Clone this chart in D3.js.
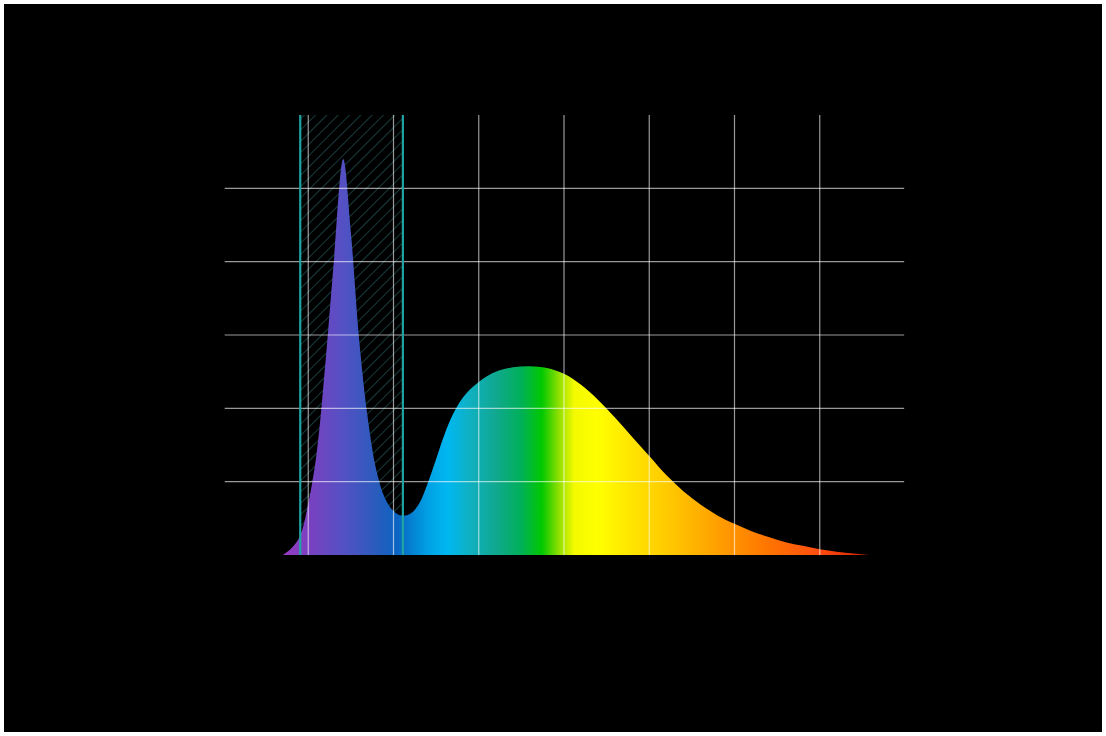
<!DOCTYPE html>
<html><head><meta charset="utf-8">
<script src="https://cdn.jsdelivr.net/npm/d3@7"></script>
<style>html,body{margin:0;padding:0;background:#fff;}svg{display:block;}</style>
</head><body>
<script>
// Data
const wavelengths = [385,390,395,400,405,410,415,420.5,425,430,435,440,445,450,455,460,465,470,475,480,485,490,495,500,505,510,520,530,540,550,560,570,580,590,600,610,620,630,640,650,660,670,680,690,700,710,720,729];
const intensity   = [0,0.018,0.05,0.14,0.28,0.52,0.80,1.08,0.88,0.58,0.37,0.23,0.155,0.12,0.107,0.113,0.14,0.195,0.262,0.33,0.385,0.425,0.452,0.472,0.488,0.50,0.512,0.515,0.51,0.494,0.464,0.423,0.374,0.322,0.27,0.218,0.174,0.138,0.108,0.085,0.065,0.049,0.035,0.025,0.016,0.009,0.004,0];
const xTicks = [400,450,500,550,600,650,700];
const yTicks = [0.2,0.4,0.6,0.8,1.0];
const band = [395.3,455.5];
const stopWavelengths = [385,400,420,440,452,470,482,495,510,525,537,547,556,570,590,612,640,670,700,729];
const stopColors = ["#9a3cc4","#7a40c0","#5550c4","#2a5cbc","#0a64c2","#00a0e4","#00b8f0","#10b0c0","#10a890","#00b058","#00c800","#90e000","#f4fa00","#ffff00","#ffe400","#ffc800","#ffa000","#ff7400","#ff4c10","#d02000"];

const W = 1106, H = 736;
const svg = d3.select("body").append("svg").attr("width", W).attr("height", H);
svg.append("rect").attr("x",4).attr("y",4).attr("width",1098).attr("height",728).attr("fill","#000");

const x = d3.scaleLinear().domain([350,750]).range([223,905]);
const y = d3.scaleLinear().domain([0,1.2]).range([555,115]);

const defs = svg.append("defs");
const pat = defs.append("pattern").attr("id","hatch").attr("patternUnits","userSpaceOnUse")
  .attr("width",8).attr("height",8).attr("patternTransform","rotate(45)");
pat.append("line").attr("x1",0).attr("y1",0).attr("x2",0).attr("y2",8)
  .attr("stroke","#1d4a4c").attr("stroke-width",1.6);

const grad = defs.append("linearGradient").attr("id","spec").attr("gradientUnits","userSpaceOnUse")
  .attr("x1",x(385)).attr("x2",x(729)).attr("y1",0).attr("y2",0);
stopWavelengths.forEach((w,i)=>{
  grad.append("stop").attr("offset",(w-385)/(729-385)).attr("stop-color",stopColors[i]);
});

// hatched band
svg.append("rect").attr("x",x(band[0])).attr("y",y(1.2)).attr("width",x(band[1])-x(band[0]))
  .attr("height",y(0)-y(1.2)).attr("fill","url(#hatch)");

// spectrum area
const data = wavelengths.map((w,i)=>({w, v: intensity[i]}));
const area = d3.area().x(d=>x(d.w)).y0(y(0)).y1(d=>Math.min(y(0), y(d.v))).curve(d3.curveCatmullRom.alpha(0.5));
svg.append("path").datum(data).attr("d",area).attr("fill","url(#spec)");

// grid
const g = svg.append("g").attr("stroke","#ffffff").attr("stroke-opacity",0.6).attr("stroke-width",1.2);
g.selectAll("line.v").data(xTicks).join("line").attr("class","v")
  .attr("x1",d=>x(d)).attr("x2",d=>x(d)).attr("y1",y(1.2)).attr("y2",y(0));
g.selectAll("line.h").data(yTicks).join("line").attr("class","h")
  .attr("x1",x(351)).attr("x2",x(749.5)).attr("y1",d=>y(d)).attr("y2",d=>y(d));

// band edges
svg.selectAll("line.band").data(band).join("line").attr("class","band")
  .attr("x1",d=>x(d)).attr("x2",d=>x(d)).attr("y1",y(1.2)).attr("y2",y(0))
  .attr("stroke","#1fa3a3").attr("stroke-width",2.2);
</script>
</body></html>
